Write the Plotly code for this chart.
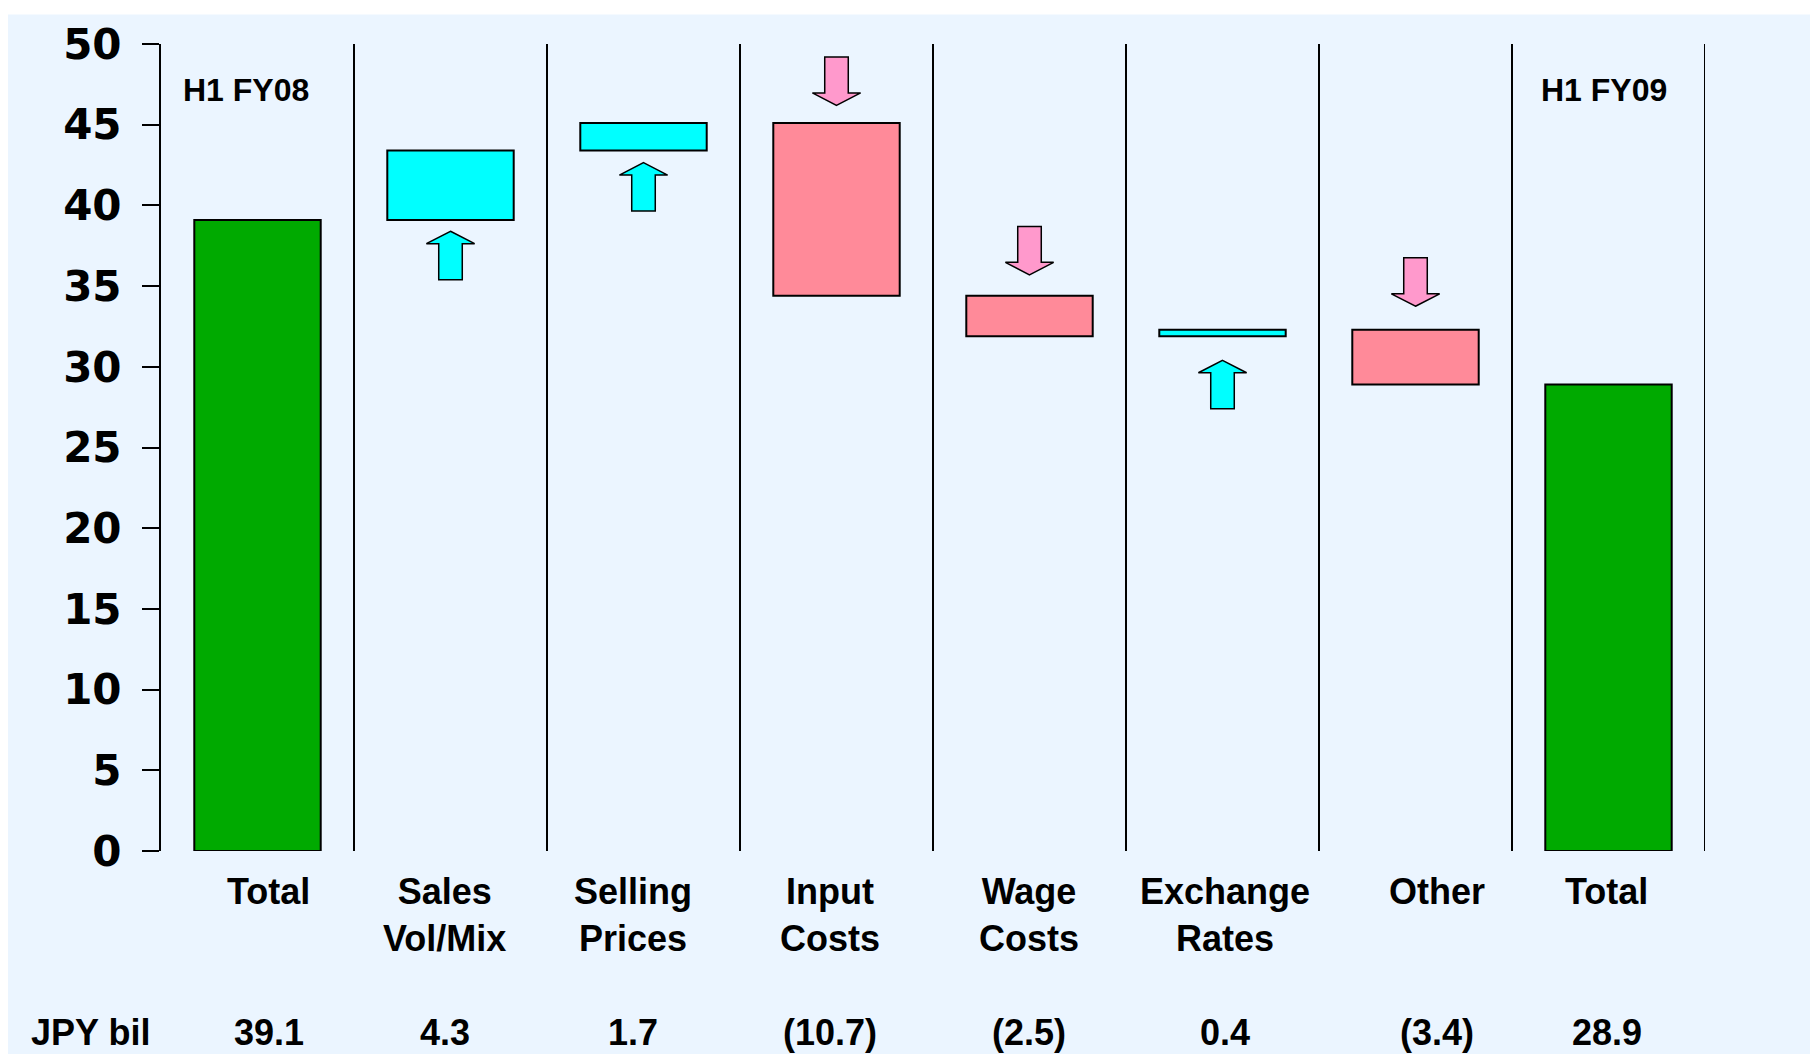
import plotly.graph_objects as go

# ---- data ----
categories = ["Total", "Sales<br>Vol/Mix", "Selling<br>Prices", "Input<br>Costs",
              "Wage<br>Costs", "Exchange<br>Rates", "Other", "Total"]
measures = ["absolute", "relative", "relative", "relative",
            "relative", "relative", "relative", "total"]
values = [39.1, 4.3, 1.7, -10.7, -2.5, 0.4, -3.4, 28.9]
value_labels = ["39.1", "4.3", "1.7", "(10.7)", "(2.5)", "0.4", "(3.4)", "28.9"]
period_labels = {0: "H1 FY08", 7: "H1 FY09"}
unit_label = "JPY bil"
y_ticks = [0, 5, 10, 15, 20, 25, 30, 35, 40, 45, 50]

# ---- styling / layout helpers (not data) ----
FONT = "Liberation Sans, Arial, sans-serif"
TICKFONT = "DejaVu Sans, Verdana, sans-serif"
BG = "#EBF5FF"
GREEN = "#00AA00"
CYAN = "#00FFFF"
RED = "#FF8A99"
PINK = "#FF99CC"
label_xshift = [11, -6, -11, -7, -1, 2, 21, -2]
period_xshift = {0: -12, 7: -5}
arrow_gap = [None, 0.7, 0.75, 1.1, 1.3, 1.5, 1.45, None]
ARROW_LEN, HEAD_H, HEAD_HW, SHAFT_HW = 3.0, 0.77, 0.125, 0.061

x = list(range(len(categories)))

fig = go.Figure()
fig.add_trace(go.Waterfall(
    x=x, y=[v if m != "total" else 0 for v, m in zip(values, measures)],
    measure=measures, width=0.655,
    increasing=dict(marker=dict(color=CYAN, line=dict(color="black", width=2))),
    decreasing=dict(marker=dict(color=RED, line=dict(color="black", width=2))),
    totals=dict(marker=dict(color=GREEN, line=dict(color="black", width=2))),
    connector=dict(visible=False), showlegend=False, hoverinfo="skip",
))

shapes = []
# background panel
shapes.append(dict(type="rect", xref="paper", yref="paper", layer="below",
                   x0=-0.2, x1=1.2, y0=-0.4, y1=1.0367,
                   fillcolor=BG, line=dict(width=0)))
# separators
for i in range(len(categories)):
    shapes.append(dict(type="line", xref="x", yref="y", x0=i + 0.5, x1=i + 0.5,
                       y0=0, y1=50, line=dict(color="black", width=2)))

# arrows
running = 0.0
for i, (v, m) in enumerate(zip(values, measures)):
    if m == "absolute":
        running = v
        continue
    if m == "total":
        continue
    start = running
    running += v
    g = arrow_gap[i]
    if v > 0:
        yt = start - g
        s = -1
        col = CYAN
    else:
        yt = start + g
        s = 1
        col = PINK
    pts = [(i, yt), (i + HEAD_HW, yt + s * HEAD_H), (i + SHAFT_HW, yt + s * HEAD_H),
           (i + SHAFT_HW, yt + s * ARROW_LEN), (i - SHAFT_HW, yt + s * ARROW_LEN),
           (i - SHAFT_HW, yt + s * HEAD_H), (i - HEAD_HW, yt + s * HEAD_H)]
    path = "M " + " L ".join(f"{px},{py}" for px, py in pts) + " Z"
    shapes.append(dict(type="path", xref="x", yref="y", path=path,
                       fillcolor=col, line=dict(color="black", width=1.5)))

annotations = []
for i, c in enumerate(categories):
    annotations.append(dict(x=i, y=0, xref="x", yref="paper", text=c,
                            showarrow=False, xanchor="center", yanchor="top",
                            xshift=label_xshift[i], yshift=-18,
                            font=dict(family=FONT, size=36, color="black", weight="bold")))
    annotations.append(dict(x=i, y=0, xref="x", yref="paper", text=value_labels[i],
                            showarrow=False, xanchor="center", yanchor="top",
                            xshift=label_xshift[i], yshift=-159,
                            font=dict(family=FONT, size=36, color="black", weight="bold")))
annotations.append(dict(x=-0.5, y=0, xref="x", yref="paper", text=unit_label,
                        showarrow=False, xanchor="center", yanchor="top",
                        xshift=-71, yshift=-159,
                        font=dict(family=FONT, size=36, color="black", weight="bold")))
for i, t in period_labels.items():
    annotations.append(dict(x=i, y=47.16, xref="x", yref="y", text=t,
                            showarrow=False, xanchor="center", yanchor="middle",
                            xshift=period_xshift[i],
                            font=dict(family=FONT, size=32, color="black", weight="bold")))

fig.update_layout(
    width=1818, height=1054, autosize=False,
    margin=dict(l=153, r=120.5, t=33, b=211.3, pad=0),
    paper_bgcolor="white", plot_bgcolor="rgba(0,0,0,0)",
    shapes=shapes, annotations=annotations,
    xaxis=dict(range=[-0.5, 7.5], showgrid=False, zeroline=False, showline=False,
               showticklabels=False, ticks="", fixedrange=True),
    yaxis=dict(range=[0, 50], tickvals=y_ticks, showgrid=False, zeroline=False,
               showline=True, linewidth=2, linecolor="black",
               ticks="outside", ticklen=17, tickwidth=2, tickcolor="black",
               ticklabelstandoff=12,
               tickfont=dict(family=TICKFONT, size=42, color="black", weight="bold"),
               fixedrange=True),
)

fig.write_html("out.html")
